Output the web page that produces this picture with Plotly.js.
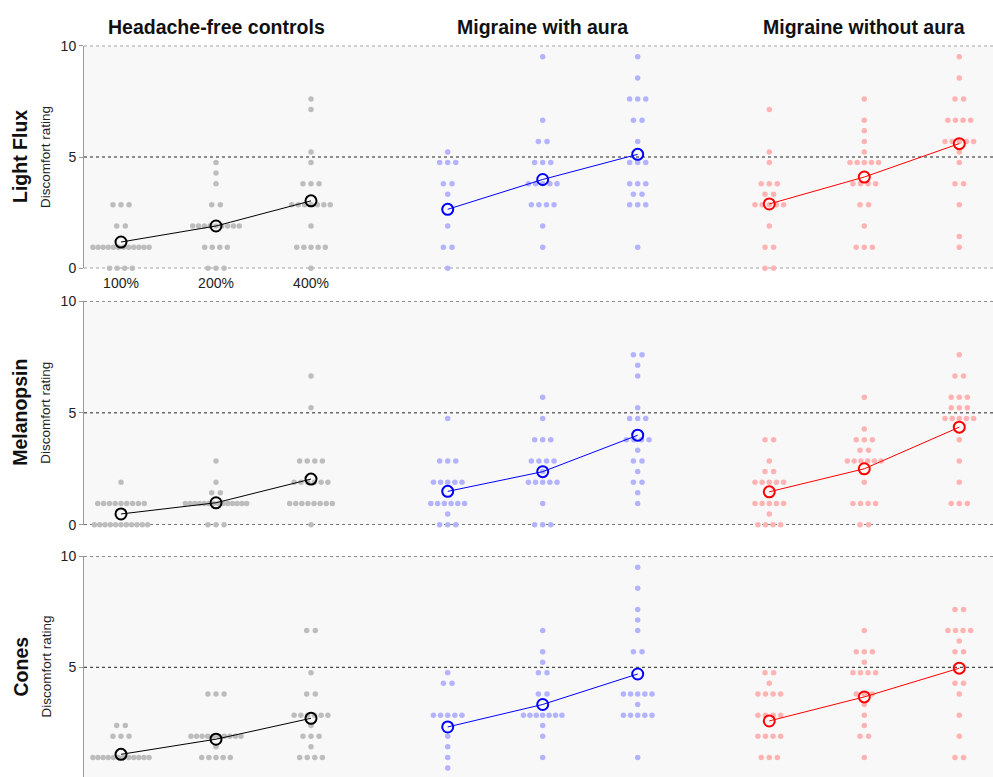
<!DOCTYPE html>
<html><head><meta charset="utf-8">
<script src="https://cdn.plot.ly/plotly-3.0.1.min.js"></script>
<style>html,body{margin:0;padding:0;background:#fff}#chart{width:993px;height:777px}</style>
</head><body><div id="chart"></div>
<script>
// ---------- data ----------
const groups = ["Headache-free controls", "Migraine with aura", "Migraine without aura"];
const rowNames = ["Light Flux", "Melanopsin", "Cones"];
const yTitle = "Discomfort rating";
const conditions = ["100%", "200%", "400%"];
const yTicks = [0, 5, 10];

// each bin: [discomfort rating, number of participants]
const lf_hc_100 = [[0,4],[0.95,12],[1.9,2],[2.85,3]];
const lf_hc_200 = [[0,3],[0.95,4],[1.9,9],[2.85,2],[3.8,1],[4.28,1],[4.75,1]];
const lf_hc_400 = [[0,1],[0.95,5],[1.9,1],[2.85,7],[3.8,3],[4.75,1],[5.23,1],[7.13,1],[7.6,1]];
const lf_mwa_100 = [[0,1],[0.95,2],[1.9,1],[3.33,1],[3.8,2],[4.75,3],[5.23,1]];
const lf_mwa_200 = [[0.95,1],[1.9,1],[2.85,4],[3.8,5],[4.75,3],[5.7,2],[6.65,1],[9.5,1]];
const lf_mwa_400 = [[0.95,1],[2.85,3],[3.33,2],[3.8,3],[4.75,3],[5.7,1],[6.65,2],[7.6,3],[8.55,1],[9.5,1]];
const lf_mwoa_100 = [[0,2],[0.95,2],[1.9,1],[2.85,5],[3.33,2],[3.8,3],[4.75,1],[5.23,1],[7.13,1]];
const lf_mwoa_200 = [[0.95,3],[1.9,1],[2.85,2],[3.8,4],[4.75,5],[5.23,1],[5.7,1],[6.18,1],[6.65,1],[7.6,1]];
const lf_mwoa_400 = [[0.95,1],[1.43,1],[2.85,1],[3.8,2],[4.75,1],[5.23,1],[5.7,5],[6.65,4],[7.6,2],[8.55,1],[9.5,1]];

const mel_hc_100 = [[0,11],[0.95,9],[1.9,1]];
const mel_hc_200 = [[0,3],[0.95,14],[1.43,2],[1.9,1],[2.85,1]];
const mel_hc_400 = [[0,1],[0.95,8],[1.9,6],[2.85,4],[5.23,1],[6.65,1]];
const mel_mwa_100 = [[0,3],[0.48,1],[0.95,6],[1.9,5],[2.85,3],[4.75,1]];
const mel_mwa_200 = [[0,3],[0.95,1],[1.9,5],[2.38,1],[2.85,4],[3.8,3],[4.75,1],[5.7,1]];
const mel_mwa_400 = [[0.95,1],[1.43,1],[1.9,2],[2.38,1],[2.85,2],[3.33,1],[3.8,4],[4.75,3],[5.23,1],[6.65,1],[7.13,1],[7.6,2]];
const mel_mwoa_100 = [[0,4],[0.48,1],[0.95,5],[1.9,5],[2.38,2],[2.85,1],[3.8,2]];
const mel_mwoa_200 = [[0,2],[0.95,4],[1.9,1],[2.85,6],[3.33,2],[3.8,3],[4.28,1],[5.7,1]];
const mel_mwoa_400 = [[0.95,3],[1.9,1],[2.85,1],[3.8,1],[4.75,5],[5.23,3],[5.7,3],[6.65,2],[7.6,1]];

const con_hc_100 = [[0,4],[0.95,12],[1.9,3],[2.38,2]];
const con_hc_200 = [[0,2],[0.95,5],[1.43,1],[1.9,10],[3.8,3]];
const con_hc_400 = [[0,1],[0.95,4],[1.43,1],[1.9,3],[2.38,1],[2.85,6],[3.8,2],[4.75,1],[6.65,2]];
const con_mwa_100 = [[0,1],[0.48,1],[0.95,1],[1.43,1],[1.9,1],[2.85,5],[4.28,2],[4.75,1]];
const con_mwa_200 = [[0.95,1],[1.9,1],[2.38,1],[2.85,7],[3.8,2],[4.75,2],[5.23,1],[5.7,1],[6.65,1]];
const con_mwa_400 = [[0.95,1],[2.85,5],[3.33,1],[3.8,5],[5.7,2],[6.65,1],[7.13,1],[7.6,1],[8.55,1],[9.5,1]];
const con_mwoa_100 = [[0,2],[0.95,3],[1.9,4],[2.85,4],[3.8,4],[4.28,1],[4.75,2]];
const con_mwoa_200 = [[0,2],[0.95,1],[1.9,2],[2.38,1],[2.85,1],[3.33,1],[3.8,3],[4.75,4],[5.23,1],[5.7,3],[6.65,1]];
const con_mwoa_400 = [[0.95,2],[1.9,1],[2.85,1],[3.8,1],[4.28,2],[5.7,2],[6.18,1],[6.65,4],[7.6,2]];

// group means per condition (100%, 200%, 400%)
const lf_hc_mean = [1.18, 1.9, 3.03];
const lf_mwa_mean = [2.65, 3.99, 5.12];
const lf_mwoa_mean = [2.89, 4.1, 5.6];
const mel_hc_mean = [0.48, 0.98, 2.04];
const mel_mwa_mean = [1.49, 2.37, 4.0];
const mel_mwoa_mean = [1.47, 2.5, 4.36];
const con_hc_mean = [1.09, 1.77, 2.71];
const con_mwa_mean = [2.32, 3.33, 4.7];
const con_mwoa_mean = [2.59, 3.67, 4.96];

// ---------- assembly ----------
const rowsBins = [
  [[lf_hc_100, lf_hc_200, lf_hc_400], [lf_mwa_100, lf_mwa_200, lf_mwa_400], [lf_mwoa_100, lf_mwoa_200, lf_mwoa_400]],
  [[mel_hc_100, mel_hc_200, mel_hc_400], [mel_mwa_100, mel_mwa_200, mel_mwa_400], [mel_mwoa_100, mel_mwoa_200, mel_mwoa_400]],
  [[con_hc_100, con_hc_200, con_hc_400], [con_mwa_100, con_mwa_200, con_mwa_400], [con_mwoa_100, con_mwoa_200, con_mwoa_400]]
];
const rowsMeans = [
  [lf_hc_mean, lf_mwa_mean, lf_mwoa_mean],
  [mel_hc_mean, mel_mwa_mean, mel_mwoa_mean],
  [con_hc_mean, con_mwa_mean, con_mwoa_mean]
];

// layout constants (positions/styles)
const PX_PER_UNIT = 95;
const groupStart = [0, 3.439, 6.824];
const dotColors = ["#bdbdbd", "#b3b3ff", "#ffb3b3"];
const lineColors = ["#000000", "#0000ff", "#ff0000"];
const FONT = "Liberation Sans, Arial, Helvetica, sans-serif";
const H = 777, W = 993, L = 84;
const rowPix = [[45.7, 268.3], [301, 524.7], [556, 777]];
const yRanges = [[0, 10], [0, 10], [0.072, 10]];

function spacingPx(n) { return 10 / (1 + 0.08 * n); }
function swarm(bins, xc) {
  const xs = [], ys = [];
  bins.forEach(([v, n]) => {
    const s = spacingPx(n) / PX_PER_UNIT;
    for (let i = 0; i < n; i++) { xs.push(xc + (i - (n - 1) / 2) * s); ys.push(v); }
  });
  return { xs, ys };
}

const traces = [];
const layout = {
  width: W, height: H,
  margin: { l: L, r: 0, t: 0, b: 0 },
  paper_bgcolor: "#ffffff",
  plot_bgcolor: "#f8f8f8",
  showlegend: false,
  font: { family: FONT, color: "#222" },
  shapes: [], annotations: []
};
const xRange = [(L - 121) / PX_PER_UNIT, (W - 121) / PX_PER_UNIT];

rowsBins.forEach((rowB, r) => {
  const sfx = r === 0 ? "" : String(r + 1);
  const xa = "x" + sfx, ya = "y" + sfx;
  rowB.forEach((grpB, g) => {
    let X = [], Y = [];
    grpB.forEach((bins, c) => {
      const s = swarm(bins, groupStart[g] + c);
      X = X.concat(s.xs); Y = Y.concat(s.ys);
    });
    traces.push({
      type: "scatter", mode: "markers", x: X, y: Y, xaxis: xa, yaxis: ya,
      marker: { size: 5.5, color: dotColors[g], line: { width: 0 } },
      cliponaxis: false, hoverinfo: "skip"
    });
  });
  rowsMeans[r].forEach((m, g) => {
    traces.push({
      type: "scatter", mode: "lines+markers",
      x: conditions.map((_, c) => groupStart[g] + c), y: m,
      xaxis: xa, yaxis: ya,
      line: { color: lineColors[g], width: 1 },
      marker: { symbol: "circle-open", size: 11, color: lineColors[g], line: { width: 2, color: lineColors[g] } },
      cliponaxis: false
    });
  });
  const top = 1 - rowPix[r][0] / H, bot = Math.max(0, 1 - rowPix[r][1] / H);
  layout["xaxis" + sfx] = {
    domain: [0, 1], range: xRange, anchor: ya,
    showgrid: false, zeroline: false, showline: false,
    tickvals: r === 0 ? conditions.map((_, c) => groupStart[0] + c) : [],
    ticktext: r === 0 ? conditions : [],
    showticklabels: r === 0, ticks: "", ticklabelstandoff: 5,
    tickfont: { size: 14, color: "#222", family: FONT }
  };
  layout["yaxis" + sfx] = {
    domain: [bot, top], range: yRanges[r], anchor: xa,
    showgrid: false, zeroline: false,
    showline: true, linecolor: "#999", linewidth: 1,
    ticks: "outside", ticklen: 4, tickcolor: "#999",
    tickvals: yTicks, ticktext: yTicks.map(String),
    tickfont: { size: 14, color: "#222", family: FONT }
  };
  yTicks.forEach(v => {
    layout.shapes.push({
      type: "line", xref: "paper", x0: 0, x1: 1, yref: ya, y0: v, y1: v,
      line: { color: "#222", width: 1, dash: "dot" }, layer: "below"
    });
  });
  const midPix = (rowPix[r][0] + Math.min(rowPix[r][1], 778.7)) / 2;
  layout.annotations.push({
    xref: "paper", yref: "paper", x: (20 - L) / (W - L), y: 1 - midPix / H,
    text: "<b>" + rowNames[r] + "</b>", showarrow: false, textangle: -90,
    font: { size: 19.5, color: "#111", family: FONT }, xanchor: "center", yanchor: "middle"
  });
  layout.annotations.push({
    xref: "paper", yref: "paper", x: (46 - L) / (W - L), y: 1 - midPix / H,
    text: yTitle, showarrow: false, textangle: -90,
    font: { size: 13.5, color: "#222", family: FONT }, xanchor: "center", yanchor: "middle"
  });
});

groups.forEach((gname, g) => {
  layout.annotations.push({
    xref: "x", yref: "paper", x: groupStart[g] + 1, y: 1 - 27 / H,
    text: "<b>" + gname + "</b>", showarrow: false,
    font: { size: 19.5, color: "#111", family: FONT }, xanchor: "center", yanchor: "middle"
  });
});

Plotly.newPlot("chart", traces, layout, { displayModeBar: false, staticPlot: true });
</script>
</body></html>
